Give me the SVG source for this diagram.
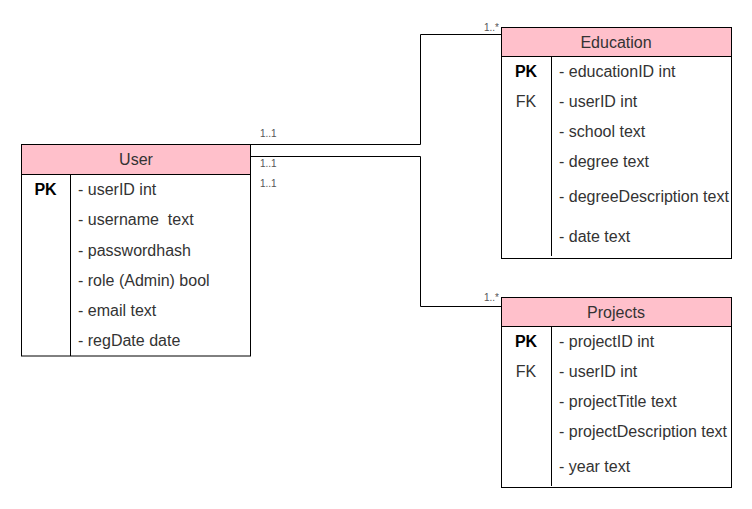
<svg xmlns="http://www.w3.org/2000/svg" width="752" height="509" viewBox="0 0 752 509">
<style>
.bg{fill:#ffffff}
.box{fill:#ffffff;stroke:#000000;stroke-width:1}
.hdr{fill:#ffc0cb;stroke:#000000;stroke-width:1}
.div{stroke:#000000;stroke-width:1;fill:none}
.t{font-family:"Liberation Sans",Arial,sans-serif;font-size:16px;fill:#333333;white-space:pre}
.title{text-anchor:middle}
.key{font-family:"Liberation Sans",Arial,sans-serif;font-size:16px;fill:#333333;text-anchor:middle}
.pk{font-weight:bold;fill:#000000}
.lbl{font-family:"Liberation Sans",Arial,sans-serif;font-size:10px;fill:#555555}
.edge{fill:none;stroke:#000000;stroke-width:1}
</style>
<rect class="bg" x="0" y="0" width="752" height="509"/>
<g id="connectors">
<path class="edge" d="M250.5,144.5 H420.5 V34.5 H501"/>
<path class="edge" d="M250.5,156.5 H420.5 V306.5 H501"/>
<text class="lbl" x="260" y="137">1..1</text>
<text class="lbl" x="484" y="31">1..*</text>
<text class="lbl" x="260" y="167">1..1</text>
<text class="lbl" x="260" y="187">1..1</text>
<text class="lbl" x="484" y="301">1..*</text>
</g>
<g id="user">
<rect class="box" x="21.5" y="144.5" width="229" height="211.5"/>
<rect class="hdr" x="21.5" y="144.5" width="229" height="30"/>
<line class="div" x1="70.5" y1="174.5" x2="70.5" y2="356"/>
<text class="t title" x="136" y="165">User</text>
<text class="key pk" x="45.5" y="195">PK</text>
<text class="t" x="78" y="195">- userID int</text>
<text class="t" x="78" y="225" xml:space="preserve">- username  text</text>
<text class="t" x="78" y="256">- passwordhash</text>
<text class="t" x="78" y="286">- role (Admin) bool</text>
<text class="t" x="78" y="316">- email text</text>
<text class="t" x="78" y="346">- regDate date</text>
</g>
<g id="education">
<rect class="box" x="501.5" y="27.5" width="230" height="231"/>
<rect class="hdr" x="501.5" y="27.5" width="230" height="29"/>
<line class="div" x1="551.5" y1="56.5" x2="551.5" y2="256"/>
<text class="t title" x="616" y="48">Education</text>
<text class="key pk" x="526" y="77">PK</text>
<text class="key" x="526" y="107">FK</text>
<text class="t" x="559" y="77">- educationID int</text>
<text class="t" x="559" y="107">- userID int</text>
<text class="t" x="559" y="137">- school text</text>
<text class="t" x="559" y="167">- degree text</text>
<text class="t" x="559" y="202">- degreeDescription text</text>
<text class="t" x="559" y="242">- date text</text>
</g>
<g id="projects">
<rect class="box" x="501.5" y="297.5" width="230" height="190"/>
<rect class="hdr" x="501.5" y="297.5" width="230" height="29"/>
<line class="div" x1="551.5" y1="326.5" x2="551.5" y2="486"/>
<text class="t title" x="616" y="318">Projects</text>
<text class="key pk" x="526" y="347">PK</text>
<text class="key" x="526" y="377">FK</text>
<text class="t" x="559" y="347">- projectID int</text>
<text class="t" x="559" y="377">- userID int</text>
<text class="t" x="559" y="407">- projectTitle text</text>
<text class="t" x="559" y="437">- projectDescription text</text>
<text class="t" x="559" y="472">- year text</text>
</g>
</svg>
